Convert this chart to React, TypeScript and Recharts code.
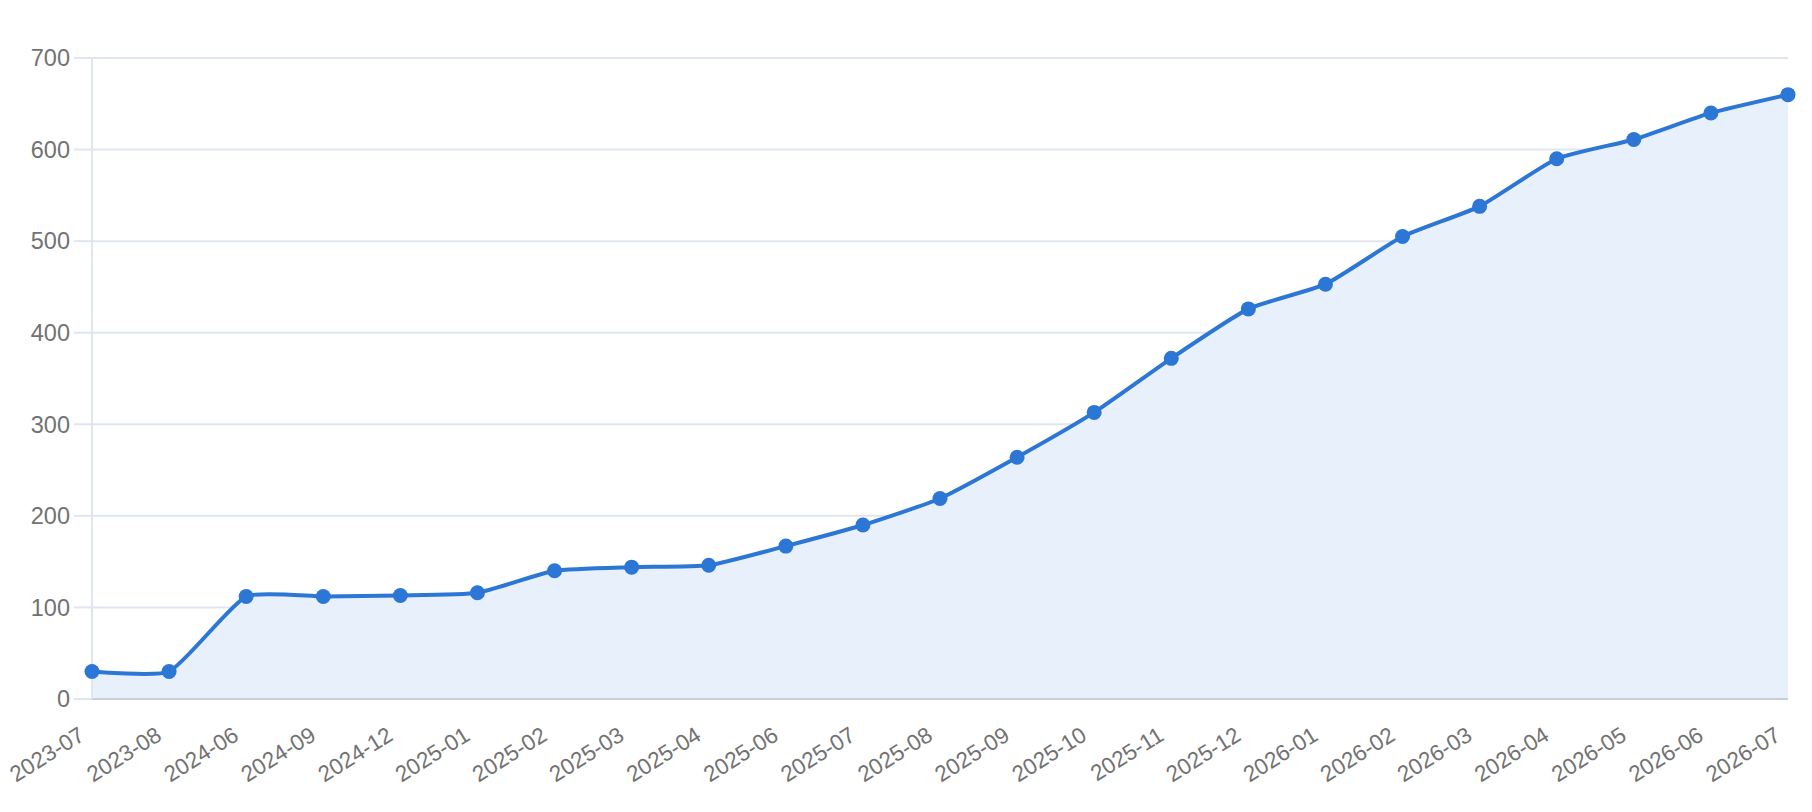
import React from "react";
import { AreaChart, Area, XAxis, YAxis, CartesianGrid } from "recharts";

const months = [
  "2023-07", "2023-08", "2024-06", "2024-09", "2024-12", "2025-01", "2025-02",
  "2025-03", "2025-04", "2025-06", "2025-07", "2025-08", "2025-09", "2025-10",
  "2025-11", "2025-12", "2026-01", "2026-02", "2026-03", "2026-04", "2026-05",
  "2026-06", "2026-07",
];

const values = [
  30, 30, 112, 112, 113, 116, 140, 144, 146, 167, 190, 219, 264, 313, 372, 426,
  453, 505, 538, 590, 611, 640, 660,
];

const yTicks = [0, 100, 200, 300, 400, 500, 600, 700];

const data = months.map((m, i) => ({ month: m, value: values[i] }));

const LABEL_COLOR = "#727272";
const GRID_COLOR = "#E0E6F1";
const LINE_COLOR = "#2C76D6";
const FILL_COLOR = "#E8F0FB";
const FONT = "'Liberation Sans', Arial, Helvetica, sans-serif";
const SMOOTH = 0.17;

// Light smoothing curve (ECharts-like control points), as a d3-style curve factory
function gentleCurve(context: any) {
  let pts: number[][] = [];
  let line = NaN;
  const flush = () => {
    const n = pts.length;
    if (!n) return;
    const [x0, y0] = pts[0];
    if (line) context.lineTo(x0, y0);
    else context.moveTo(x0, y0);
    let cpx0 = x0;
    let cpy0 = y0;
    for (let i = 1; i < n; i++) {
      const [px, py] = pts[i - 1];
      const [x, y] = pts[i];
      let vx = 0;
      let vy = 0;
      let ratio = 0.5;
      let ncx = x;
      let ncy = y;
      if (i < n - 1) {
        const [nx, ny] = pts[i + 1];
        vx = nx - px;
        vy = ny - py;
        const l0 = Math.hypot(x - px, y - py);
        const l1 = Math.hypot(nx - x, ny - y);
        ratio = l0 + l1 > 0 ? l1 / (l0 + l1) : 0.5;
        ncx = x - vx * SMOOTH * (1 - ratio);
        ncy = y - vy * SMOOTH * (1 - ratio);
      }
      context.bezierCurveTo(cpx0, cpy0, ncx, ncy, x, y);
      cpx0 = x + vx * SMOOTH * ratio;
      cpy0 = y + vy * SMOOTH * ratio;
    }
  };
  return {
    areaStart() {
      line = 0;
    },
    areaEnd() {
      line = NaN;
    },
    lineStart() {
      pts = [];
    },
    lineEnd() {
      flush();
      if (line || (line !== 0 && pts.length === 1)) context.closePath();
      line = 1 - line;
    },
    point(x: number, y: number) {
      pts.push([+x, +y]);
    },
  };
}

const XTick = (props: any) => {
  const { x, y, payload } = props;
  return (
    <g transform={`translate(${x - 6},${y + 40})`}>
      <text
        x={0}
        y={0}
        transform="rotate(-32)"
        textAnchor="end"
        fill={LABEL_COLOR}
        fontSize={22.5}
        fontFamily={FONT}
      >
        {payload.value}
      </text>
    </g>
  );
};

export default function App() {
  return (
    <div style={{ width: 1796, height: 796, background: "#fff" }}>
      <AreaChart
        width={1796}
        height={796}
        data={data}
        style={{ overflow: "visible" }}
        margin={{ top: 50, right: 16, bottom: 5, left: 0 }}
      >
        <CartesianGrid vertical={false} stroke={GRID_COLOR} strokeWidth={2} />
        <XAxis
          dataKey="month"
          interval={0}
          height={100}
          tickLine={false}
          tickSize={0}
          tickMargin={0}
          axisLine={{ stroke: "#C9CDD6", strokeWidth: 2 }}
          tick={<XTick />}
        />
        <YAxis
          width={84}
          domain={[0, 700]}
          ticks={yTicks}
          interval={0}
          axisLine={{ stroke: GRID_COLOR, strokeWidth: 2 }}
          tickLine={{ stroke: GRID_COLOR, strokeWidth: 2 }}
          tickSize={18}
          tickMargin={4}
          tick={{ fill: LABEL_COLOR, fontSize: 23.5, fontFamily: FONT }}
        />
        <Area
          type={gentleCurve as any}
          dataKey="value"
          stroke={LINE_COLOR}
          strokeWidth={4}
          fill={FILL_COLOR}
          fillOpacity={1}
          dot={{ r: 7.5, fill: LINE_COLOR, stroke: LINE_COLOR, strokeWidth: 0 }}
          activeDot={false}
          isAnimationActive={false}
        />
      </AreaChart>
    </div>
  );
}
